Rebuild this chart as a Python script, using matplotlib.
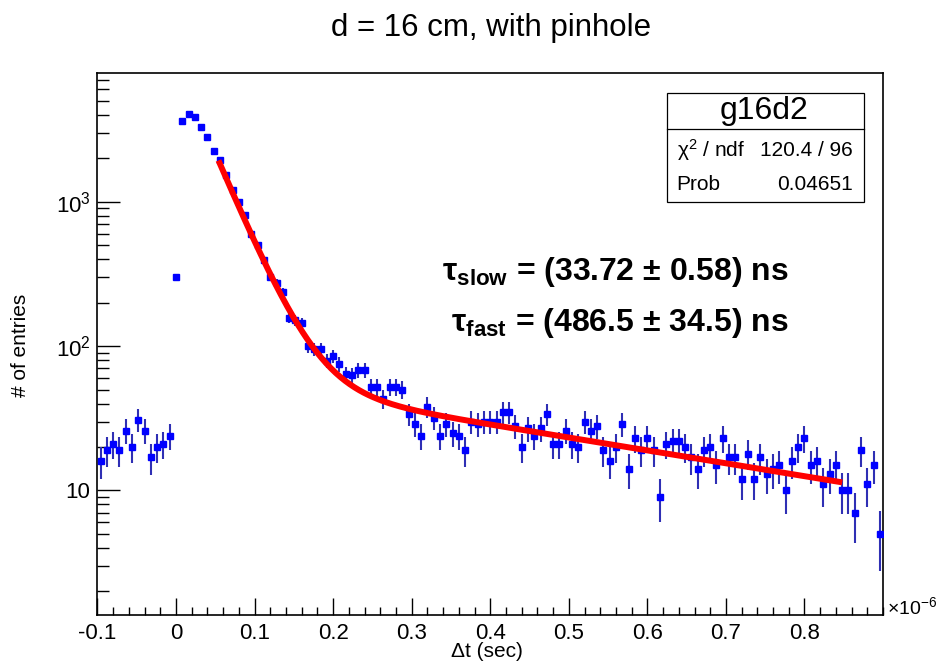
import numpy as np
import matplotlib.pyplot as plt
from matplotlib.patches import Rectangle
from matplotlib.lines import Line2D
from matplotlib.ticker import MultipleLocator, LogLocator, NullFormatter

plt.rcParams['font.family'] = ['Liberation Sans', 'DejaVu Sans']
plt.rcParams['mathtext.fontset'] = 'custom'
plt.rcParams['mathtext.rm'] = 'Liberation Sans'
plt.rcParams['mathtext.it'] = 'Liberation Sans:italic'
plt.rcParams['mathtext.bf'] = 'Liberation Sans:bold'
narrow = ['Liberation Sans Narrow', 'Liberation Sans', 'DejaVu Sans']

# histogram g16d2: entries per 8 ns bin, first bin starts at -0.1 us
t_low = -0.1
bin_w = 0.008
counts = [16, 19, 21, 19, 26, 20, 31, 26, 17, 20, 21, 24, 300,
          3600, 4060, 3880, 3290, 2800, 2240, 1945, 1524, 1205, 990, 805,
          594, 499, 394, 299, 275, 236, 156, 151, 145, 100, 95, 95, 79,
          85, 75, 64, 63, 68, 68, 52, 52, 43, 52, 52, 50, 34, 29, 24,
          38, 32, 24, 29, 25, 24, 19, 30, 29, 30, 30, 30, 35, 35, 28,
          20, 27, 24, 27, 34, 21, 21, 26, 21, 20, 30, 26, 28, 19, 16,
          20, 29, 14, 23, 19, 23, 19, 9, 21, 22, 22, 20, 17, 14, 19,
          20, 15, 23, 17, 17, 12, 18, 12, 17, 13, 14, 15, 10, 16, 20,
          23, 15, 16, 11, 13, 15, 10, 10, 7, 19, 11, 15, 5]

# fit result, two exponentials (times in us)
tau_1 = 0.03372
tau_2 = 0.4865
amp_1 = 9300
amp_2 = 65
fit_lo, fit_hi = 0.054, 0.848

xticks = [-0.1, 0.0, 0.1, 0.2, 0.3, 0.4, 0.5, 0.6, 0.7, 0.8]
xtick_labels = ['-0.1', '0', '0.1', '0.2', '0.3', '0.4', '0.5', '0.6', '0.7', '0.8']
yticks = [10, 100, 1000]
ytick_labels = ['10', '$10^{2}$', '$10^{3}$']

counts = np.array(counts, dtype=float)
centers = t_low + bin_w * (np.arange(len(counts)) + 0.5)
err = np.sqrt(counts)

fig = plt.figure(figsize=(9.42, 6.68), dpi=100)
ax = fig.add_axes([0.1035, 0.0793, 0.8339, 0.8114])

ax.errorbar(centers, counts, yerr=err, fmt='s', ms=4.3, color='#0000ff',
            ecolor='#2f2fb4', elinewidth=1.5, capsize=0, zorder=3)

tf = np.linspace(fit_lo, fit_hi, 400)
ax.plot(tf, amp_1 * np.exp(-tf / tau_1) + amp_2 * np.exp(-tf / tau_2),
        color='red', lw=4.3, solid_capstyle='butt', zorder=4)

ax.set_yscale('log')
ax.set_xlim(-0.1, 0.9)
ax.set_ylim(1.37, 7800)

ax.set_xticks(xticks, xtick_labels, fontfamily=narrow, fontsize=16)
ax.xaxis.set_minor_locator(MultipleLocator(0.02))
ax.set_yticks(yticks, ytick_labels, fontsize=16)
ax.yaxis.set_minor_locator(LogLocator(subs=np.arange(2, 10)))
ax.yaxis.set_minor_formatter(NullFormatter())

ax.tick_params(axis='x', which='major', direction='in', length=12, width=1, pad=6)
ax.tick_params(axis='x', which='minor', direction='in', length=6, width=1)
ax.tick_params(axis='y', which='major', direction='in', length=16.5, width=1, pad=5)
ax.tick_params(axis='y', which='minor', direction='in', length=8.5, width=1)
ax.tick_params(top=False, right=False, which='both')
for s in ax.spines.values():
    s.set_linewidth(1.2)

fig.text(0.521, 0.958, 'd = 16 cm, with pinhole', fontsize=22.5, ha='center', va='center')
fig.text(0.517, 0.024, 'Δt (sec)', fontsize=15, ha='center', va='center')
fig.text(0.022, 0.4835, '# of entries', fontsize=15, ha='center', va='center', rotation=90)
fig.text(0.9416, 0.0913, '×10$^{-6}$', fontsize=14, ha='left', va='center',
         fontfamily=narrow)

# stats box
bx0, bx1, by0, by1, bsep = 0.7081, 0.9172, 0.6972, 0.8603, 0.8069
fig.patches.append(Rectangle((bx0, by0), bx1 - bx0, by1 - by0, transform=fig.transFigure,
                             facecolor='white', edgecolor='black', lw=0.9, zorder=5))
fig.lines.append(Line2D([bx0, bx1], [bsep, bsep], transform=fig.transFigure,
                        color='black', lw=0.9, zorder=6))
fig.text(0.8107, 0.8338, 'g16d2', fontsize=23, ha='center', va='center', zorder=7)
fig.text(0.7184, 0.7754, 'χ$^{2}$ / ndf', fontsize=15, ha='left', va='center', zorder=7)
fig.text(0.9055, 0.7754, '120.4 / 96', fontsize=15, ha='right', va='center', zorder=7)
fig.text(0.7184, 0.7231, 'Prob', fontsize=15, ha='left', va='center', zorder=7)
fig.text(0.9055, 0.7231, '0.04651', fontsize=15, ha='right', va='center', zorder=7)

fig.text(0.8376, 0.5928, r'τ$_{\mathbf{slow}}$ = (33.72 ± 0.58) ns', fontsize=23,
         fontweight='bold', ha='right', va='center')
fig.text(0.8376, 0.5165, r'τ$_{\mathbf{fast}}$ = (486.5 ± 34.5) ns', fontsize=23,
         fontweight='bold', ha='right', va='center')

fig.savefig('out.png', dpi=100)
